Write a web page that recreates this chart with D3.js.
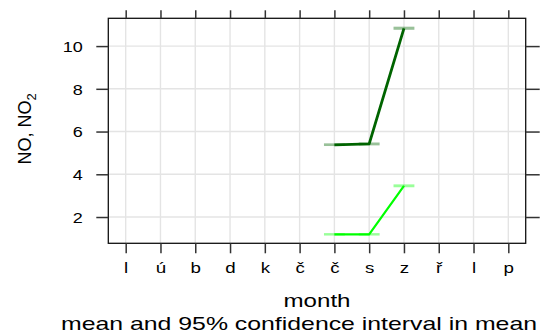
<!DOCTYPE html>
<html>
<head>
<meta charset="utf-8">
<script src="https://cdn.jsdelivr.net/npm/d3@7"></script>
<style>
  html, body { margin: 0; padding: 0; background: #fff; }
  svg { display: block; }
  text { font-family: "Liberation Sans", Arial, sans-serif; fill: #000; }
</style>
</head>
<body>
<svg id="chart" width="541" height="336"></svg>
<script>
// Month initials (Czech), January to December
const months = ["l", "ú", "b", "d", "k", "č", "č", "s", "z", "ř", "l", "p"];
const yTicks = [2, 4, 6, 8, 10];

// Monthly means (1-based month index) and 95% confidence intervals
const no2Month = [7, 8, 9];
const no2Mean  = [5.38, 5.42, 10.83];
const no2Lower = [5.36, 5.39, 10.80];
const no2Upper = [5.41, 5.45, 10.87];

const noMonth = [7, 8, 9];
const noMean  = [1.19, 1.19, 3.46];
const noLower = [1.17, 1.17, 3.43];
const noUpper = [1.21, 1.21, 3.49];

const series = [
  { name: "NO2", color: "#006400", width: 2.8, month: no2Month, mean: no2Mean, lower: no2Lower, upper: no2Upper },
  { name: "NO",  color: "#00ff00", width: 2.2, month: noMonth,  mean: noMean,  lower: noLower,  upper: noUpper }
];

const svg = d3.select("#chart");
const panel = { left: 108.3, right: 525.7, top: 18.3, bottom: 243.3 };

const x = d3.scaleLinear().domain([0.5, 12.5]).range([panel.left, panel.right]);
const y = d3.scaleLinear().domain([0.77, 11.3]).range([panel.bottom, panel.top]);
const monthIdx = d3.range(1, 13);

// grid
const grid = svg.append("g").attr("stroke", "#e4e4e4").attr("stroke-width", 1.4);
grid.selectAll("line.v").data(monthIdx).join("line")
  .attr("x1", d => x(d)).attr("x2", d => x(d))
  .attr("y1", panel.top).attr("y2", panel.bottom);
grid.selectAll("line.h").data(yTicks).join("line")
  .attr("x1", panel.left).attr("x2", panel.right)
  .attr("y1", d => y(d)).attr("y2", d => y(d));

// confidence interval boxes and mean lines
const line = d3.line().x(d => x(d[0])).y(d => y(d[1]));
series.forEach(s => {
  const c = d3.color(s.color); c.opacity = 0.4;
  svg.append("g").selectAll("rect").data(s.month.map((m, i) => i)).join("rect")
    .attr("x", i => x(s.month[i] - 0.3))
    .attr("width", x(0.6) - x(0))
    .attr("y", i => y(s.upper[i]) - 0.8)
    .attr("height", i => y(s.lower[i]) - y(s.upper[i]) + 1.6)
    .attr("fill", c.formatRgb());
  svg.append("path")
    .datum(s.month.map((m, i) => [m, s.mean[i]]))
    .attr("d", line)
    .attr("fill", "none")
    .attr("stroke", s.color)
    .attr("stroke-width", s.width)
    .attr("stroke-linejoin", "round");
});

// panel border
svg.append("rect")
  .attr("x", panel.left).attr("y", panel.top)
  .attr("width", panel.right - panel.left).attr("height", panel.bottom - panel.top)
  .attr("fill", "none").attr("stroke", "#111").attr("stroke-width", 1.3);

// axes (ticks on all four sides, labels bottom and left)
const tickCol = "#333";
const axB = d3.axisBottom(x).tickValues(monthIdx).tickSize(10).tickFormat(d => months[d - 1]);
const axT = d3.axisTop(x).tickValues(monthIdx).tickSize(8).tickFormat("");
const axL = d3.axisLeft(y).tickValues(yTicks).tickSize(12).tickFormat(d3.format("d"));
const axR = d3.axisRight(y).tickValues(yTicks).tickSize(14).tickFormat("");

function style(g) {
  g.select(".domain").remove();
  g.selectAll(".tick line").attr("stroke", tickCol).attr("stroke-width", 1.5);
}

const gB = svg.append("g").attr("transform", `translate(0,${panel.bottom})`).call(axB).call(style);
gB.selectAll(".tick text").remove();
gB.selectAll(".tick").append("text")
  .attr("transform", "translate(0,30) scale(1.25,1)")
  .attr("text-anchor", "middle")
  .style("font-size", "15px")
  .text(d => months[d - 1]);

svg.append("g").attr("transform", `translate(0,${panel.top})`).call(axT).call(style);
svg.append("g").attr("transform", `translate(${panel.right},0)`).call(axR).call(style);

const gL = svg.append("g").attr("transform", `translate(${panel.left},0)`).call(axL).call(style);
gL.selectAll(".tick text").remove();
gL.selectAll(".tick").append("text")
  .attr("transform", "translate(-25.6,5.3) scale(1.2,1)")
  .attr("text-anchor", "end")
  .style("font-size", "15px")
  .text(d => d);

// axis titles
const yl = svg.append("text")
  .attr("transform", `translate(31,${(panel.top + panel.bottom) / 2 - 2}) rotate(-90)`)
  .attr("text-anchor", "middle")
  .style("font-size", "18px");
yl.append("tspan").text("NO, NO");
yl.append("tspan").attr("dy", 5).style("font-size", "13px").text("2");

svg.append("text")
  .attr("x", (panel.left + panel.right) / 2).attr("y", 306.7)
  .attr("text-anchor", "middle")
  .attr("textLength", 67).attr("lengthAdjust", "spacingAndGlyphs")
  .style("font-size", "18px")
  .text("month");

svg.append("text")
  .attr("x", 299).attr("y", 330)
  .attr("text-anchor", "middle")
  .attr("textLength", 476).attr("lengthAdjust", "spacingAndGlyphs")
  .style("font-size", "19px")
  .text("mean and 95% confidence interval in mean");
</script>
</body>
</html>
